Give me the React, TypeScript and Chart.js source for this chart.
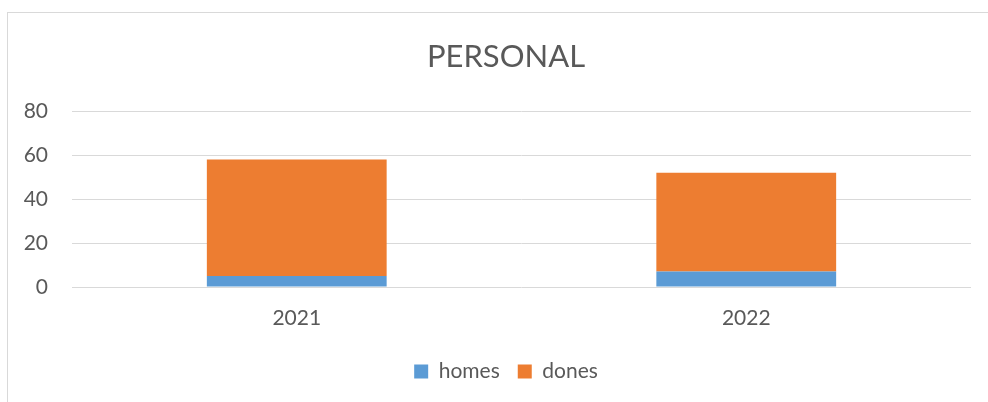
import React, { useEffect, useRef } from "react";
import { Chart, registerables } from "chart.js";

Chart.register(...registerables);

const categories = ["2021", "2022"];
const homesValues = [5, 7];
const donesValues = [53, 45];
const yTicks = [0, 20, 40, 60, 80];
const chartTitle = "PERSONAL";

const FONT = "Lato, 'Open Sans', sans-serif";
const TEXT = "#595959";
const GRID = "#d9d9d9";

export default function App() {
  const ref = useRef<HTMLCanvasElement | null>(null);

  useEffect(() => {
    if (!ref.current) return;
    const chart = new Chart(ref.current, {
      type: "bar",
      data: {
        labels: categories,
        datasets: [
          {
            label: "homes",
            data: homesValues,
            backgroundColor: "#5B9BD5",
            borderWidth: 0,
            barPercentage: 0.4,
            categoryPercentage: 1.0,
          },
          {
            label: "dones",
            data: donesValues,
            backgroundColor: "#ED7D31",
            borderWidth: 0,
            barPercentage: 0.4,
            categoryPercentage: 1.0,
          },
        ],
      },
      options: {
        animation: false,
        responsive: false,
        maintainAspectRatio: false,
        layout: { padding: { left: 24, right: 0, top: 0, bottom: 10 } },
        plugins: {
          title: {
            display: true,
            text: chartTitle,
            color: TEXT,
            font: { family: FONT, size: 31, weight: "normal" },
            padding: { top: 38, bottom: 36 },
          },
          legend: {
            position: "bottom",
            labels: {
              color: TEXT,
              font: { family: FONT, size: 21 },
              boxWidth: 14,
              boxHeight: 14,
              padding: 18,
            },
          },
          tooltip: { enabled: false },
        },
        scales: {
          x: {
            stacked: true,
            grid: { display: false },
            border: { display: false },
            ticks: {
              color: TEXT,
              font: { family: FONT, size: 21 },
              padding: 11,
              maxRotation: 0,
            },
            afterFit: (s: any) => {
              s.height = 56;
            },
          },
          y: {
            stacked: true,
            min: 0,
            max: 80,
            afterBuildTicks: (s: any) => {
              s.ticks = yTicks.map((v) => ({ value: v }));
            },
            grid: { color: GRID, lineWidth: 1, drawTicks: false },
            border: { display: false },
            ticks: {
              color: TEXT,
              font: { family: FONT, size: 21 },
              padding: 24,
            },
            afterFit: (s: any) => {
              s.width = 48;
            },
          },
          yRight: {
            position: "right",
            min: 0,
            max: 80,
            grid: { display: false },
            border: { display: false },
            ticks: { display: false },
            afterFit: (s: any) => {
              s.width = 17;
            },
          },
        },
      },
    });
    return () => chart.destroy();
  }, []);

  return (
    <div
      style={{
        position: "fixed",
        left: 0,
        top: 0,
        width: 988,
        height: 402,
        background: "#fff",
        overflow: "hidden",
      }}
    >
      <div
        style={{
          position: "absolute",
          left: 7,
          top: 12,
          width: 1000,
          height: 420,
          borderLeft: "1px solid #d9d9d9",
          borderTop: "1px solid #d9d9d9",
          boxSizing: "border-box",
        }}
      />
      <canvas
        ref={ref}
        width={988}
        height={402}
        style={{ position: "absolute", left: 0, top: 0, width: 988, height: 402 }}
      />
    </div>
  );
}
